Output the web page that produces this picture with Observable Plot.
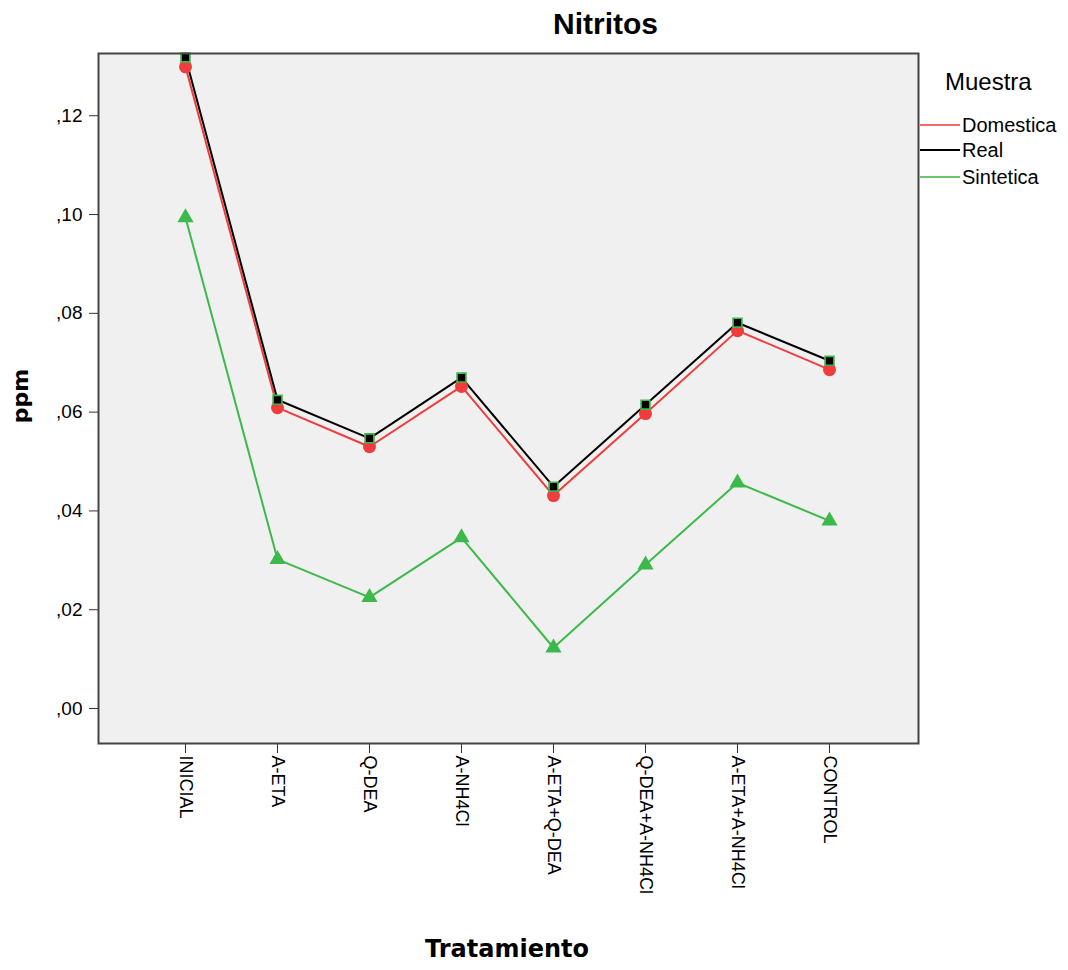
<!DOCTYPE html>
<html><head><meta charset="utf-8">
<script src="https://cdn.jsdelivr.net/npm/d3@7"></script>
<script src="https://cdn.jsdelivr.net/npm/@observablehq/plot@0.6"></script>
<style>
body{margin:0;background:#fff;font-family:"Liberation Sans",Arial,sans-serif;}
#wrap{position:relative;width:1068px;height:970px;}
.ov{position:absolute;white-space:nowrap;color:#000;line-height:1;}
</style></head>
<body><div id="wrap"></div>
<script>
const tratamientos = ["INICIAL","A-ETA","Q-DEA","A-NH4Cl","A-ETA+Q-DEA","Q-DEA+A-NH4Cl","A-ETA+A-NH4Cl","CONTROL"];
const domestica = [0.1299,0.0609,0.0530,0.0652,0.0431,0.0597,0.0765,0.0686];
const real      = [0.1318,0.0625,0.0547,0.0670,0.0449,0.0615,0.0781,0.0704];
const sintetica = [0.0994,0.0302,0.0225,0.0346,0.0123,0.0291,0.0457,0.0380];
const yTicks = [0,0.02,0.04,0.06,0.08,0.10,0.12];

const mk = (vals, s) => tratamientos.map((t,i)=>({t, v: vals[i], s}));
const dDom = mk(domestica,"Domestica"), dReal = mk(real,"Real"), dSin = mk(sintetica,"Sintetica");
const RED="#f03c3c", GREEN="#3cb94a", BLACK="#000";

const plot = Plot.plot({
  width:1068, height:970,
  marginLeft:98, marginRight:150, marginTop:53, marginBottom:227,
  style:{fontFamily:"Liberation Sans, Arial, sans-serif", background:"transparent", color:"#000"},
  x:{type:"point", domain:tratamientos, range:[185,829], padding:0, label:null},
  y:{domain:[-0.00708,0.1326], label:null},
  marks:[
    Plot.frame({fill:"#f0f0f0", stroke:null}),
    Plot.axisY({ticks:yTicks, tickFormat:d=>d3.format(".2f")(d).replace("0.",","), tickSize:9, tickPadding:7, fontSize:19, stroke:"#333"}),
    Plot.axisX({tickRotate:90, tickSize:10, tickPadding:2, fontSize:18, stroke:"#333", textAnchor:"start"}),
    Plot.line(dDom,{x:"t",y:"v",stroke:RED,strokeWidth:2}),
    Plot.line(dReal,{x:"t",y:"v",stroke:BLACK,strokeWidth:2}),
    Plot.line(dSin,{x:"t",y:"v",stroke:GREEN,strokeWidth:2}),
    Plot.dot(dDom,{x:"t",y:"v",fill:RED,r:6.5,symbol:"circle"}),
    Plot.dot(dReal,{x:"t",y:"v",fill:BLACK,stroke:GREEN,strokeWidth:1.6,r:5,symbol:"square"}),
    Plot.dot(dSin,{x:"t",y:"v",fill:GREEN,r:6,symbol:"triangle"}),
    Plot.frame({stroke:"#444", strokeWidth:2})
  ]
});
const wrap = document.getElementById("wrap");
wrap.appendChild(plot);

function ov(text, css){const d=document.createElement("div");d.className="ov";d.textContent=text;Object.assign(d.style,css);wrap.appendChild(d);return d;}
ov("Nitritos",{left:"553px",top:"9px",fontSize:"30px",fontWeight:"bold"});
ov("Tratamiento",{left:"425px",top:"937px",fontSize:"24px",fontWeight:"bold",fontFamily:"DejaVu Sans"});
ov("ppm",{left:"-6px",top:"385px",fontSize:"22px",fontWeight:"bold",fontFamily:"DejaVu Sans",transform:"rotate(-90deg)",transformOrigin:"center"});
ov("Muestra",{left:"945px",top:"70px",fontSize:"24px"});
const leg=[["Domestica","#f46a6a",125],["Real","#000",150],["Sintetica","#6cc66c",177]];
leg.forEach(([n,c,y])=>{
  const l=document.createElement("div");
  Object.assign(l.style,{position:"absolute",left:"920px",top:(y-1)+"px",width:"40px",height:"2px",background:c});
  wrap.appendChild(l);
  ov(n,{left:"962px",top:(y-10)+"px",fontSize:"20px"});
});
</script></body></html>
